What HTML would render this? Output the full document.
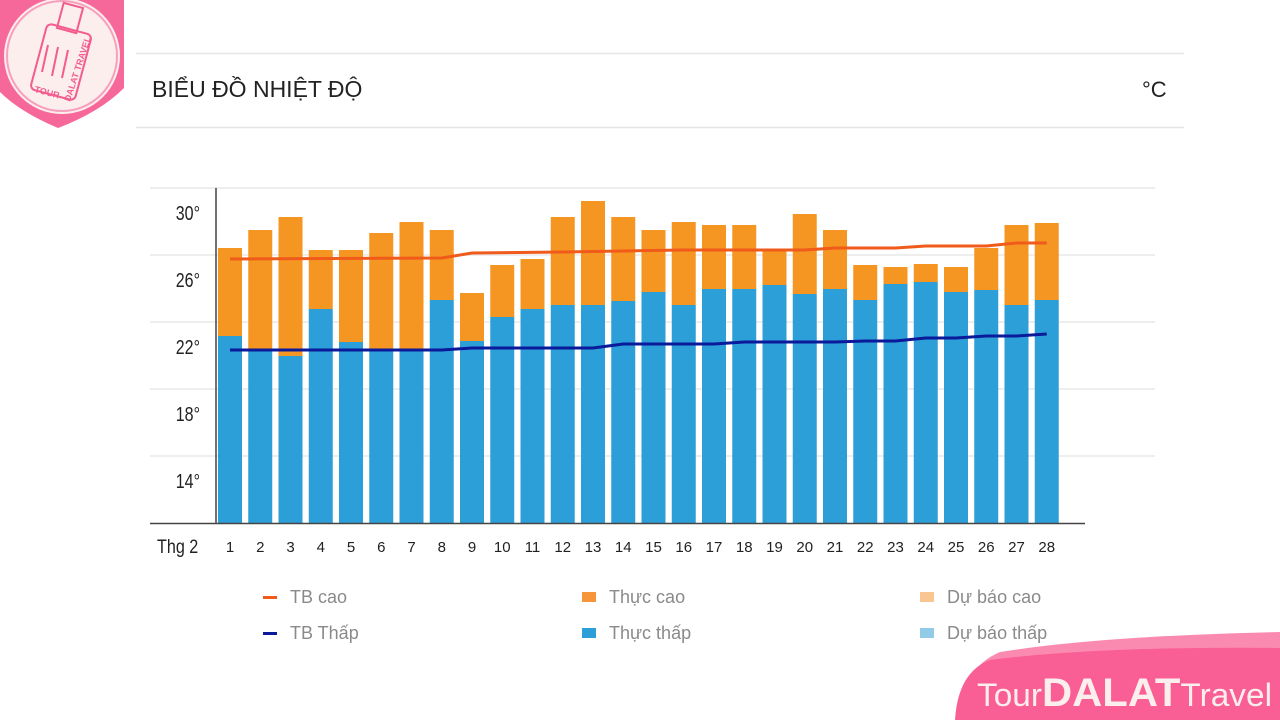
<!DOCTYPE html>
<html><head><meta charset="utf-8"><style>
html,body{margin:0;padding:0;background:#fff;}
body{width:1280px;height:720px;overflow:hidden;position:relative;font-family:"Liberation Sans",sans-serif;}
</style></head><body>
<svg width="1280" height="720" viewBox="0 0 1280 720" xmlns="http://www.w3.org/2000/svg" style="position:absolute;left:0;top:0">
<!-- header -->
<line x1="136" y1="53.5" x2="1184" y2="53.5" stroke="#e6e6e6" stroke-width="1.5"/>
<line x1="136" y1="127.5" x2="1184" y2="127.5" stroke="#e6e6e6" stroke-width="1.5"/>
<text x="152" y="97" font-size="23" fill="#222" font-family="Liberation Sans, sans-serif">BIỂU ĐỒ NHIỆT ĐỘ</text>
<text x="1142" y="97" font-size="22" fill="#222" font-family="Liberation Sans, sans-serif">°C</text>
<!-- grid -->
<g stroke="#e8e8e8" stroke-width="1.5">
<line x1="150" y1="188" x2="1155" y2="188"/>
<line x1="150" y1="255" x2="1155" y2="255"/>
<line x1="150" y1="322" x2="1155" y2="322"/>
<line x1="150" y1="389" x2="1155" y2="389"/>
<line x1="150" y1="456" x2="1155" y2="456"/>
</g>
<!-- bars -->
<g fill="#2d9fd8">
<rect x="218" y="336" width="24" height="187"/>
<rect x="248.25" y="349" width="24" height="174"/>
<rect x="278.5" y="356" width="24" height="167"/>
<rect x="308.75" y="309" width="24" height="214"/>
<rect x="339" y="342" width="24" height="181"/>
<rect x="369.25" y="349" width="24" height="174"/>
<rect x="399.5" y="349" width="24" height="174"/>
<rect x="429.75" y="300" width="24" height="223"/>
<rect x="460" y="341" width="24" height="182"/>
<rect x="490.25" y="317" width="24" height="206"/>
<rect x="520.5" y="309" width="24" height="214"/>
<rect x="550.75" y="305" width="24" height="218"/>
<rect x="581" y="305" width="24" height="218"/>
<rect x="611.25" y="301" width="24" height="222"/>
<rect x="641.5" y="292" width="24" height="231"/>
<rect x="671.75" y="305" width="24" height="218"/>
<rect x="702" y="289" width="24" height="234"/>
<rect x="732.25" y="289" width="24" height="234"/>
<rect x="762.5" y="285" width="24" height="238"/>
<rect x="792.75" y="294" width="24" height="229"/>
<rect x="823" y="289" width="24" height="234"/>
<rect x="853.25" y="300" width="24" height="223"/>
<rect x="883.5" y="284" width="24" height="239"/>
<rect x="913.75" y="282" width="24" height="241"/>
<rect x="944" y="292" width="24" height="231"/>
<rect x="974.25" y="290" width="24" height="233"/>
<rect x="1004.5" y="305" width="24" height="218"/>
<rect x="1034.75" y="300" width="24" height="223"/>
</g>
<g fill="#f59623">
<rect x="218" y="248" width="24" height="88"/>
<rect x="248.25" y="230" width="24" height="119"/>
<rect x="278.5" y="217" width="24" height="139"/>
<rect x="308.75" y="250" width="24" height="59"/>
<rect x="339" y="250" width="24" height="92"/>
<rect x="369.25" y="233" width="24" height="116"/>
<rect x="399.5" y="222" width="24" height="127"/>
<rect x="429.75" y="230" width="24" height="70"/>
<rect x="460" y="293" width="24" height="48"/>
<rect x="490.25" y="265" width="24" height="52"/>
<rect x="520.5" y="259" width="24" height="50"/>
<rect x="550.75" y="217" width="24" height="88"/>
<rect x="581" y="201" width="24" height="104"/>
<rect x="611.25" y="217" width="24" height="84"/>
<rect x="641.5" y="230" width="24" height="62"/>
<rect x="671.75" y="222" width="24" height="83"/>
<rect x="702" y="225" width="24" height="64"/>
<rect x="732.25" y="225" width="24" height="64"/>
<rect x="762.5" y="251" width="24" height="34"/>
<rect x="792.75" y="214" width="24" height="80"/>
<rect x="823" y="230" width="24" height="59"/>
<rect x="853.25" y="265" width="24" height="35"/>
<rect x="883.5" y="267" width="24" height="17"/>
<rect x="913.75" y="264" width="24" height="18"/>
<rect x="944" y="267" width="24" height="25"/>
<rect x="974.25" y="248" width="24" height="42"/>
<rect x="1004.5" y="225" width="24" height="80"/>
<rect x="1034.75" y="223" width="24" height="77"/>
</g>
<!-- lines -->
<polyline fill="none" stroke="#f05a1a" stroke-width="3" points="230,259 441.75,258 472,253 562.75,252 623.25,251 683.75,250 804.75,250 835,248 895.5,248 925.75,246 986.25,246 1016.5,243 1046.75,243"/>
<polyline fill="none" stroke="#0a1a9a" stroke-width="3" points="230,350 441.75,350 472,348 593,348 623.25,344 714,344 744.25,342 835,342 865.25,341 895.5,341 925.75,338 956,338 986.25,336 1016.5,336 1046.75,334"/>
<!-- axes -->
<line x1="216" y1="188" x2="216" y2="524" stroke="#444" stroke-width="1.5"/>
<line x1="150" y1="523.5" x2="1085" y2="523.5" stroke="#444" stroke-width="1.5"/>
<!-- y labels -->
<g font-size="20" fill="#222" text-anchor="end" font-family="Liberation Sans, sans-serif">
<text x="200" y="220" transform="translate(200,0) scale(0.8,1) translate(-200,0)">30°</text>
<text x="200" y="287" transform="translate(200,0) scale(0.8,1) translate(-200,0)">26°</text>
<text x="200" y="354" transform="translate(200,0) scale(0.8,1) translate(-200,0)">22°</text>
<text x="200" y="421" transform="translate(200,0) scale(0.8,1) translate(-200,0)">18°</text>
<text x="200" y="488" transform="translate(200,0) scale(0.8,1) translate(-200,0)">14°</text>
</g>
<!-- x labels -->
<text x="157" y="553" font-size="19" fill="#222" transform="translate(157,0) scale(0.85,1) translate(-157,0)">Thg 2</text>
<g font-size="15" fill="#222" text-anchor="middle">
<text x="230" y="552">1</text><text x="260.25" y="552">2</text><text x="290.5" y="552">3</text><text x="320.75" y="552">4</text><text x="351" y="552">5</text><text x="381.25" y="552">6</text><text x="411.5" y="552">7</text><text x="441.75" y="552">8</text><text x="472" y="552">9</text><text x="502.25" y="552">10</text><text x="532.5" y="552">11</text><text x="562.75" y="552">12</text><text x="593" y="552">13</text><text x="623.25" y="552">14</text><text x="653.5" y="552">15</text><text x="683.75" y="552">16</text><text x="714" y="552">17</text><text x="744.25" y="552">18</text><text x="774.5" y="552">19</text><text x="804.75" y="552">20</text><text x="835" y="552">21</text><text x="865.25" y="552">22</text><text x="895.5" y="552">23</text><text x="925.75" y="552">24</text><text x="956" y="552">25</text><text x="986.25" y="552">26</text><text x="1016.5" y="552">27</text><text x="1046.75" y="552">28</text>
</g>
<!-- legend -->
<rect x="263" y="596" width="14" height="3" fill="#f05a1a"/>
<rect x="263" y="632" width="14" height="3" fill="#0a1a9a"/>
<rect x="582" y="592" width="14" height="10" fill="#f7953a"/>
<rect x="582" y="628" width="14" height="10" fill="#2d9fd8"/>
<rect x="920" y="592" width="14" height="10" fill="#f9c590"/>
<rect x="920" y="628" width="14" height="10" fill="#92cbe8"/>
<g font-size="18" fill="#8a8a8a">
<text x="290" y="603">TB cao</text>
<text x="290" y="639">TB Thấp</text>
<text x="609" y="603">Thực cao</text>
<text x="609" y="639">Thực thấp</text>
<text x="947" y="603">Dự báo cao</text>
<text x="947" y="639">Dự báo thấp</text>
</g>
<!-- top-left logo -->
<path d="M0,0 H124 V88 Q100,112 58,128 Q20,112 0,92 Z" fill="#f7689a"/>
<circle cx="62" cy="56" r="58" fill="#fdeeee"/>
<circle cx="62" cy="56" r="55" fill="none" stroke="#f7a0bd" stroke-width="2"/>
<g fill="none" stroke="#f25c8e" stroke-width="2">
<rect x="38" y="28" width="46" height="68" rx="5" transform="rotate(15 61 62)"/>
<rect x="60" y="5" width="20" height="26" transform="rotate(15 70 18)"/>
<line x1="48" y1="45" x2="42" y2="72"/><line x1="58" y1="47" x2="52" y2="76"/><line x1="68" y1="50" x2="62" y2="78"/>
</g>
<text x="34" y="92" font-size="9" font-weight="bold" fill="#f25c8e" transform="rotate(15 34 92)">TOUR</text>
<text x="70" y="102" font-size="9" font-weight="bold" fill="#f25c8e" transform="rotate(-72 70 102)">DALAT TRAVEL</text>
<!-- bottom-right banner -->
<path d="M1000,652 Q1100,636 1280,632 V720 H956 Q962,668 1000,652 Z" fill="#fb8ab0"/>
<path d="M990,660 Q1100,646 1280,648 V720 H955 Q958,672 990,660 Z" fill="#f95f95"/>
<text x="977" y="706" font-size="32" fill="#fdeeee" textLength="295" lengthAdjust="spacingAndGlyphs">Tour<tspan font-weight="bold" font-size="40">DALAT</tspan>Travel</text>
</svg>
</body></html>
